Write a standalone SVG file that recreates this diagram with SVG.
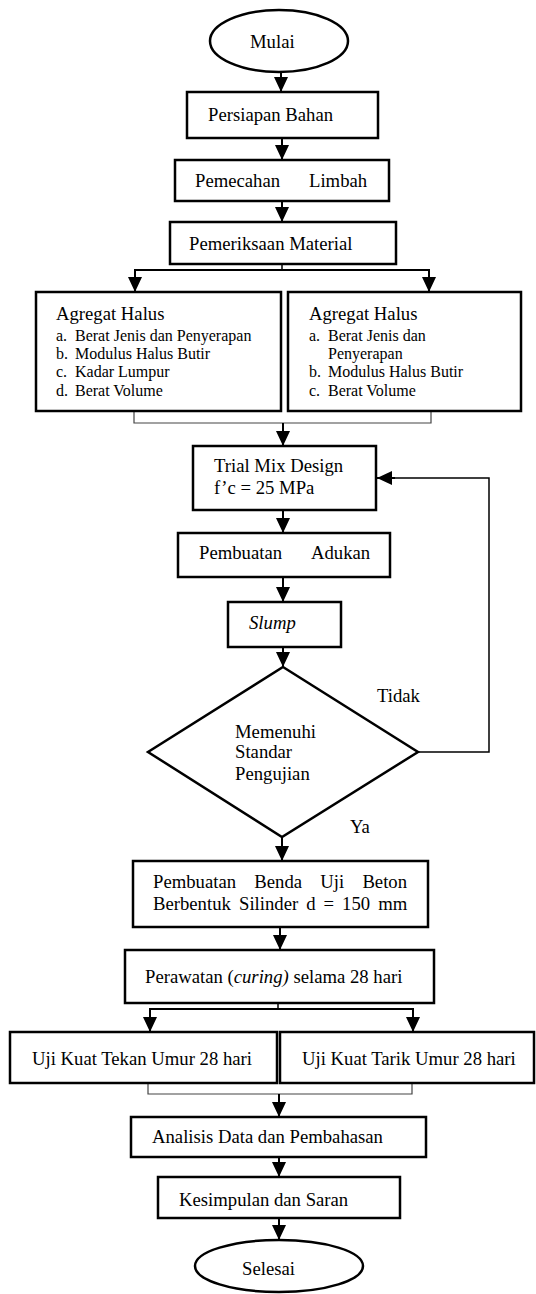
<svg xmlns="http://www.w3.org/2000/svg" width="536" height="1294" viewBox="0 0 536 1294">
<style>
.box{fill:#fff;stroke:#000;stroke-width:2.5}
.t{font-family:"Liberation Serif","Times New Roman",serif;font-size:18.7px;fill:#000}
.s{font-family:"Liberation Serif","Times New Roman",serif;font-size:16px;fill:#000}
.c{fill:none;stroke:#000;stroke-width:2}
.thin{fill:none;stroke:#000;stroke-width:1.5}
.br{fill:none;stroke:#444;stroke-width:1.2}
</style>
<defs>
<marker id="ah" markerUnits="userSpaceOnUse" markerWidth="15" markerHeight="14" refX="15" refY="7" orient="auto">
<path d="M0,0 L15,7 L0,14 z" fill="#000"/>
</marker>
</defs>
<rect width="536" height="1294" fill="#fff"/>
<g id="connectors">
<line class="c" x1="281" y1="72" x2="281" y2="92" marker-end="url(#ah)"/>
<line class="c" x1="282" y1="138" x2="282" y2="160" marker-end="url(#ah)"/>
<line class="c" x1="282" y1="201" x2="282" y2="222" marker-end="url(#ah)"/>
<polyline class="thin" points="282,264 282,270"/>
<polyline class="c" points="135,270 429,270"/>
<line class="c" x1="135" y1="269" x2="135" y2="292" marker-end="url(#ah)"/>
<line class="c" x1="429" y1="269" x2="429" y2="292" marker-end="url(#ah)"/>
<polyline class="br" points="134,411 134,423 431,423 431,411"/>
<line class="c" x1="283" y1="423" x2="283" y2="446" marker-end="url(#ah)"/>
<line class="c" x1="283" y1="510" x2="283" y2="533" marker-end="url(#ah)"/>
<line class="c" x1="283" y1="577" x2="283" y2="602" marker-end="url(#ah)"/>
<line class="c" x1="283" y1="647" x2="283" y2="667" marker-end="url(#ah)"/>
<polyline class="thin" points="418,752 489,752 489,478 380,478"/>
<line class="c" x1="395" y1="478" x2="377" y2="478" marker-end="url(#ah)"/>
<line class="c" x1="282" y1="837" x2="282" y2="861" marker-end="url(#ah)"/>
<line class="c" x1="280" y1="927" x2="280" y2="950" marker-end="url(#ah)"/>
<polyline class="thin" points="278,1003 278,1009"/>
<polyline class="c" points="150,1009 413,1009"/>
<line class="c" x1="150" y1="1008" x2="150" y2="1032" marker-end="url(#ah)"/>
<line class="c" x1="413" y1="1008" x2="413" y2="1032" marker-end="url(#ah)"/>
<polyline class="br" points="148,1083 148,1094 412,1094 412,1083"/>
<line class="c" x1="279" y1="1094" x2="279" y2="1117" marker-end="url(#ah)"/>
<line class="c" x1="279" y1="1157" x2="279" y2="1177" marker-end="url(#ah)"/>
<line class="c" x1="279" y1="1218" x2="279" y2="1240" marker-end="url(#ah)"/>
</g>
<g id="mulai">
<ellipse cx="279" cy="41" rx="69" ry="31" fill="#fff" stroke="#000" stroke-width="2.5"/>
<text class="t" x="250" y="48">Mulai</text>
</g>
<g id="persiapan">
<rect class="box" x="187" y="92" width="191" height="46"/>
<text class="t" x="208" y="121">Persiapan Bahan</text>
</g>
<g id="pemecahan">
<rect class="box" x="175" y="160" width="214" height="41"/>
<text class="t" y="187"><tspan x="195">Pemecahan</tspan><tspan x="309">Limbah</tspan></text>
</g>
<g id="pemeriksaan">
<rect class="box" x="170" y="222" width="226" height="42"/>
<text class="t" x="189" y="250">Pemeriksaan Material</text>
</g>
<g id="agregat-kiri">
<rect class="box" x="36" y="292" width="245" height="119"/>
<text class="t" x="56" y="320">Agregat Halus</text>
<text class="s" x="56" y="341">a.</text><text class="s" x="75" y="341">Berat Jenis dan Penyerapan</text>
<text class="s" x="56" y="359">b.</text><text class="s" x="75" y="359">Modulus Halus Butir</text>
<text class="s" x="56" y="377">c.</text><text class="s" x="75" y="377">Kadar Lumpur</text>
<text class="s" x="56" y="396">d.</text><text class="s" x="75" y="396">Berat Volume</text>
</g>
<g id="agregat-kanan">
<rect class="box" x="288" y="292" width="233" height="119"/>
<text class="t" x="309" y="320">Agregat Halus</text>
<text class="s" x="309" y="341">a.</text><text class="s" x="328" y="341">Berat Jenis dan</text>
<text class="s" x="328" y="359">Penyerapan</text>
<text class="s" x="309" y="377">b.</text><text class="s" x="328" y="377">Modulus Halus Butir</text>
<text class="s" x="309" y="396">c.</text><text class="s" x="328" y="396">Berat Volume</text>
</g>
<g id="trial">
<rect class="box" x="193" y="446" width="183" height="64"/>
<text class="t" x="214" y="472">Trial Mix Design</text>
<text class="t" x="214" y="494">f’c = 25 MPa</text>
</g>
<g id="adukan">
<rect class="box" x="178" y="533" width="212" height="44"/>
<text class="t" y="559"><tspan x="199">Pembuatan</tspan><tspan x="311">Adukan</tspan></text>
</g>
<g id="slump">
<rect class="box" x="228" y="602" width="113" height="45"/>
<text class="t" x="249" y="629" font-style="italic">Slump</text>
</g>
<g id="keputusan">
<polygon points="283,667 418,752 282,837 148,752" fill="#fff" stroke="#000" stroke-width="2.5"/>
<text class="t" x="235" y="738">Memenuhi</text>
<text class="t" x="235" y="758">Standar</text>
<text class="t" x="235" y="780">Pengujian</text>
<text class="t" x="377" y="702">Tidak</text>
<text class="t" x="350" y="833">Ya</text>
</g>
<g id="benda-uji">
<rect class="box" x="133" y="861" width="295" height="66"/>
<text class="t" y="888"><tspan x="153">Pembuatan</tspan><tspan x="254.3">Benda</tspan><tspan x="320.3">Uji</tspan><tspan x="362.4">Beton</tspan></text>
<text class="t" y="910"><tspan x="153">Berbentuk</tspan><tspan x="239">Silinder</tspan><tspan x="306.2">d</tspan><tspan x="323.6">=</tspan><tspan x="342.1">150</tspan><tspan x="378.2">mm</tspan></text>
</g>
<g id="perawatan">
<rect class="box" x="125" y="950" width="309" height="53"/>
<text class="t" x="145" y="983">Perawatan (<tspan font-style="italic">curing)</tspan> selama 28 hari</text>
</g>
<g id="uji-tekan">
<rect class="box" x="10" y="1032" width="267" height="51"/>
<text class="t" x="32" y="1065">Uji Kuat Tekan Umur 28 hari</text>
</g>
<g id="uji-tarik">
<rect class="box" x="280" y="1032" width="254" height="51"/>
<text class="t" x="302" y="1065">Uji Kuat Tarik Umur 28 hari</text>
</g>
<g id="analisis">
<rect class="box" x="131" y="1117" width="295" height="40"/>
<text class="t" x="152" y="1143">Analisis Data dan Pembahasan</text>
</g>
<g id="kesimpulan">
<rect class="box" x="158" y="1177" width="242" height="41"/>
<text class="t" x="179" y="1206">Kesimpulan dan Saran</text>
</g>
<g id="selesai">
<ellipse cx="279" cy="1266" rx="84" ry="26" fill="#fff" stroke="#000" stroke-width="2.5"/>
<text class="t" x="242" y="1275">Selesai</text>
</g>
</svg>
